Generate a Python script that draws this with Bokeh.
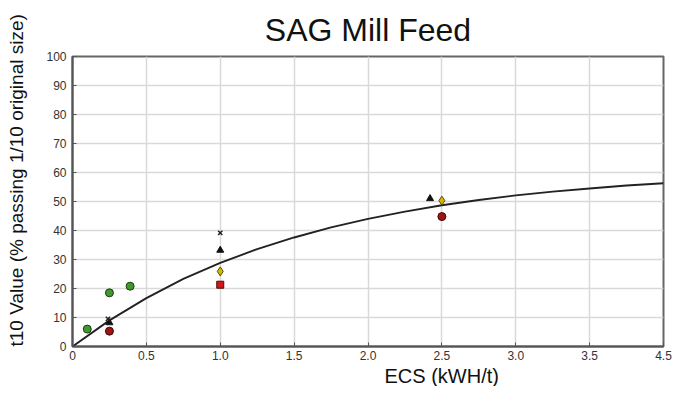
from bokeh.plotting import figure
from bokeh.models import Range1d, FixedTicker, Title
from bokeh.embed import file_html
from bokeh.resources import INLINE

# ---- data ----
x_ticks = [0, 0.5, 1.0, 1.5, 2.0, 2.5, 3.0, 3.5, 4.0]
x_tick_labels = ["0", "0.5", "1.0", "1.5", "2.0", "2.5", "3.0", "3.5", "4.5"]
y_ticks = [0, 10, 20, 30, 40, 50, 60, 70, 80, 90, 100]

green_x = [0.10, 0.25, 0.39]
green_y = [6.0, 18.5, 20.8]
darkred_x = [0.25, 2.50]
darkred_y = [5.3, 44.8]
tri_x = [0.25, 1.00, 2.42]
tri_y = [8.2, 33.2, 51.0]
cross_x = [0.24, 1.00]
cross_y = [9.5, 39.2]
yellow_x = [1.00, 2.50]
yellow_y = [25.9, 50.3]
red_x = [1.00]
red_y = [21.3]

curve_x = [0, 0.25, 0.5, 0.75, 1.0, 1.25, 1.5, 1.75, 2.0, 2.25, 2.5,
           2.75, 3.0, 3.25, 3.5, 3.75, 4.0]
curve_y = [0, 9.0, 16.7, 23.3, 28.8, 33.6, 37.6, 41.1, 44.0, 46.5, 48.7,
           50.5, 52.1, 53.4, 54.5, 55.5, 56.3]

FONT = "Liberation Sans"

p = figure(width=676, height=386, x_range=Range1d(0, 4), y_range=Range1d(0, 100),
           output_backend="svg", toolbar_location=None,
           min_border_left=71, min_border_right=13, min_border_top=56, min_border_bottom=38)

p.title.text = "SAG Mill Feed"
p.title.align = "center"
p.title.text_font = FONT
p.title.text_font_size = "32px"
p.title.text_font_style = "normal"
p.title.text_color = "#111111"
p.title.standoff = 18

p.outline_line_color = "#666666"
p.outline_line_width = 2
p.background_fill_color = "white"
p.border_fill_color = "white"

for ax in (p.xaxis[0], p.yaxis[0]):
    ax.axis_line_color = "#555555"
    ax.axis_line_width = 2
    ax.major_tick_in = 4
    ax.major_tick_out = 0
    ax.minor_tick_line_color = None
    ax.major_tick_line_color = "#555555"
    ax.major_label_text_font = FONT
    ax.major_label_text_font_size = "12px"
    ax.major_label_text_color = "#333333"

p.xaxis.ticker = FixedTicker(ticks=x_ticks)
p.xaxis.major_label_overrides = {t: l for t, l in zip(x_ticks, x_tick_labels)}
p.xaxis.major_label_standoff = 4

p.yaxis.ticker = FixedTicker(ticks=y_ticks)
p.yaxis.major_label_standoff = 6
p.yaxis.axis_label = " "
p.yaxis.axis_label_text_font_size = "10px"
p.yaxis.axis_label_standoff = 0

p.grid.grid_line_color = "#d9d9d9"
p.grid.grid_line_width = 1.5

xtitle = Title(text="ECS (kWH/t)", align="left", offset=312, standoff=0,
               text_font=FONT, text_font_size="20px",
               text_font_style="normal", text_color="#111111")
p.add_layout(xtitle, "below")

ytitle = Title(text="t10 Value (% passing 1/10 original size)", align="left",
               offset=0, standoff=6, text_font=FONT, text_font_size="19px",
               text_font_style="normal", text_color="#111111")
p.add_layout(ytitle, "left")

p.line(curve_x, curve_y, line_color="#222222", line_width=1.9)

p.scatter(green_x, green_y, marker="circle", size=8, fill_color="#3f9a2b", line_color="#1d3a14", line_width=1)
p.scatter(darkred_x, darkred_y, marker="circle", size=8, fill_color="#a01414", line_color="#3a0a0a", line_width=1)
p.scatter(tri_x, tri_y, marker="triangle", size=7, fill_color="#111111", line_color="#111111")
p.scatter(cross_x, cross_y, marker="x", size=6, line_color="#222222", line_width=1.5)
p.scatter(yellow_x, yellow_y, marker="diamond", size=9, fill_color="#d4b800", line_color="#5a4a00", line_width=1)
p.scatter(red_x, red_y, marker="square", size=7, fill_color="#d01818", line_color="#4a0a0a", line_width=1)

open("out.html", "w").write(file_html(p, INLINE))
